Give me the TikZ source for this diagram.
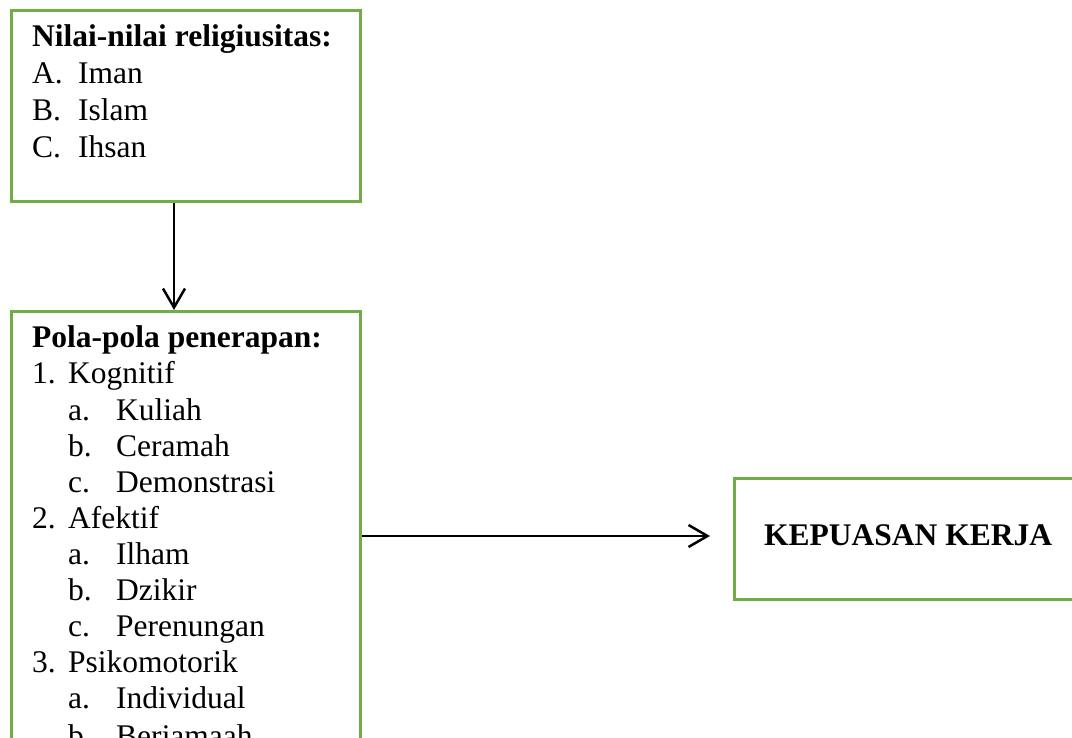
\documentclass[tikz,border=0pt]{standalone}
\usepackage{fontspec}
\setmainfont{Liberation Serif}
\usetikzlibrary{arrows.meta,calc}
\definecolor{boxgreen}{HTML}{70AD47}
\begin{document}
\begin{tikzpicture}[x=1pt,y=-1pt,
  box/.style={draw=boxgreen,line width=3pt,rectangle,inner sep=0pt,anchor=north west},
  txt/.style={anchor=base west,inner sep=0pt,font=\fontsize{31.5}{37}\selectfont},
  btxt/.style={anchor=base west,inner sep=0pt,font=\fontsize{31.5}{37}\selectfont\bfseries},
  conn/.style={draw=black,line width=2.5pt,-{Straight Barb[length=19pt,width=22pt,line width=2.5pt]}}]
\useasboundingbox (0,0) rectangle (1072,738);
\clip (0,0) rectangle (1072,738);
\fill[white] (0,0) rectangle (1072,738);

% boxes
\node[box,minimum width=349.5pt,minimum height=191pt] (b1) at (9.5,9.5) {};
\node[box,minimum width=349.5pt,minimum height=480pt] (b2) at (9.5,310) {};
\node[box,minimum width=400pt,minimum height=121pt] (b3) at (733,477) {};

% box 1 text
\node[btxt] (t1) at (32,47) {Nilai-nilai religiusitas:};
\node[txt] (t1a) at (32,84) {A.};  \node[txt] (t1ai) at (78,84) {Iman};
\node[txt] (t1b) at (32,121) {B.}; \node[txt] (t1bi) at (78,121) {Islam};
\node[txt] (t1c) at (32,158) {C.}; \node[txt] (t1ci) at (78,158) {Ihsan};

% box 2 text
\node[btxt] (t2) at (32,348) {Pola-pola penerapan:};
\node[txt] (n1) at (32,384) {1.}; \node[txt] (n1i) at (68,384) {Kognitif};
\node[txt] (n1a) at (68,420) {a.}; \node[txt] (n1ai) at (116,420) {Kuliah};
\node[txt] (n1b) at (68,456) {b.}; \node[txt] (n1bi) at (116,456) {Ceramah};
\node[txt] (n1c) at (68,492) {c.}; \node[txt] (n1ci) at (116,492) {Demonstrasi};
\node[txt] (n2) at (32,528) {2.}; \node[txt] (n2i) at (68,528) {Afektif};
\node[txt] (n2a) at (68,564) {a.}; \node[txt] (n2ai) at (116,564) {Ilham};
\node[txt] (n2b) at (68,600) {b.}; \node[txt] (n2bi) at (116,600) {Dzikir};
\node[txt] (n2c) at (68,636) {c.}; \node[txt] (n2ci) at (116,636) {Perenungan};
\node[txt] (n3) at (32,672) {3.}; \node[txt] (n3i) at (68,672) {Psikomotorik};
\node[txt] (n3a) at (68,708) {a.}; \node[txt] (n3ai) at (116,708) {Individual};
\node[txt] (n3b) at (68,746) {b.}; \node[txt] (n3bi) at (116,746) {Berjamaah};

% box 3 text
\node[btxt] (t3) at (764,545) {KEPUASAN KERJA};

% connectors
\coordinate (ax) at (174,0);
\coordinate (ay) at (0,536);
\coordinate (tipH) at (710,536);
\draw[conn] (b1.south -| ax) -- (b2.north -| ax);
\draw[conn] (b2.east |- ay) -- (tipH);
\end{tikzpicture}
\end{document}
